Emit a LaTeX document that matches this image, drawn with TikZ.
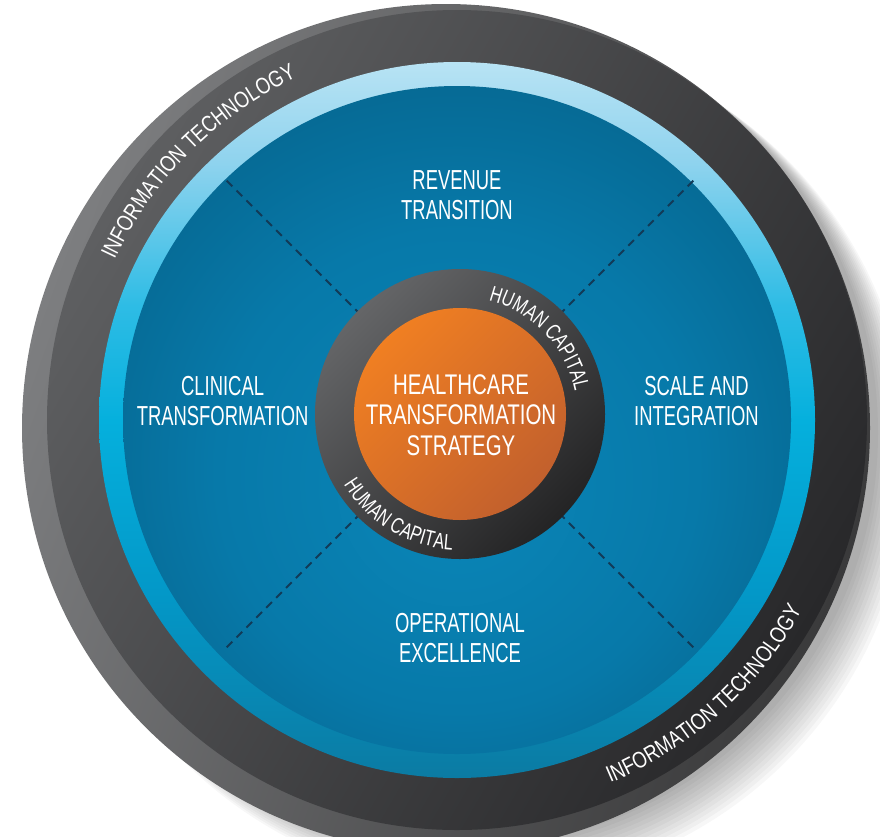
\documentclass[tikz,border=0pt]{standalone}
\usepackage{fontspec}
\usetikzlibrary{calc,decorations.text}
\newfontfamily\sidefont{Liberation Sans}[FakeStretch=0.67]
\newfontfamily\ctrfont{Liberation Sans}[FakeStretch=0.72]
\newfontfamily\ringfont{Liberation Sans}[FakeStretch=0.8]
\newfontfamily\hcringfont{Liberation Sans}[FakeStretch=0.74]
\newcommand\myitfont{\ringfont\fontsize{23}{23}\selectfont}
\newcommand\myhcfont{\hcringfont\fontsize{22}{22}\selectfont}
\definecolor{rimA}{HTML}{7D7E80}
\definecolor{rimB}{HTML}{3A3A3B}
\definecolor{ringA}{HTML}{5E5F61}
\definecolor{ringB}{HTML}{28282A}
\definecolor{cyanTop}{HTML}{B8E3F4}
\definecolor{cyanHi}{HTML}{8FD3EE}
\definecolor{cyanUp}{HTML}{2EBCE5}
\definecolor{cyanMid}{HTML}{05B0DD}
\definecolor{cyanLo}{HTML}{0398C8}
\definecolor{cyanBot}{HTML}{0B7BA3}
\definecolor{blueIn}{HTML}{0A86B8}
\definecolor{blueMid}{HTML}{0779A9}
\definecolor{blueOut}{HTML}{05587C}
\definecolor{blueEdge}{HTML}{03425C}
\definecolor{dashC}{HTML}{123A57}
\definecolor{hcA}{HTML}{646567}
\definecolor{hcB}{HTML}{242425}
\definecolor{orangeA}{HTML}{F07F22}
\definecolor{orangeB}{HTML}{C2602D}
\pgfdeclareradialshading{bluein}{\pgfpoint{0bp}{-6bp}}{color(0bp)=(blueIn); color(18bp)=(blueMid); color(40bp)=(blueOut); color(50bp)=(blueEdge)}
\pgfdeclareverticalshading{cyanring}{100bp}{color(0bp)=(cyanBot); color(25bp)=(cyanBot); color(38bp)=(cyanLo); color(50bp)=(cyanMid); color(58bp)=(cyanUp); color(68bp)=(cyanHi); color(75bp)=(cyanTop); color(100bp)=(cyanTop)}
\begin{document}
\begin{tikzpicture}[x=1pt,y=1pt,
  lbl/.style={text=white, align=center, inner sep=0pt, font=\sidefont\fontsize{27.5}{30}\selectfont},
  ctrlbl/.style={text=white, align=center, inner sep=0pt, font=\ctrfont\fontsize{28.4}{30.4}\selectfont},
  dashline/.style={draw=dashC, line width=2pt, dash pattern=on 8pt off 6pt},
  ringtext/.style={decorate, decoration={text along path, text align=center, text color=white, text={#1}}}]
\useasboundingbox (0,0) rectangle (880,-836);
\clip (0,0) rectangle (880,-836);
\coordinate (ctr) at (457,-420);
\coordinate (ictr) at (460,-414);
% soft shadow
\foreach \i in {1,...,12}
  \fill[black, opacity=0.03] ($(ctr)+(4+2*\i,-10-2.5*\i)$) circle[radius=414+\i];
% rim (thickness of the disc)
\shade[top color=rimA, bottom color=rimB, shading angle=70] (446,-428) circle[radius=424];
% dark outer ring face
\shade[top color=ringA, bottom color=ringB, shading angle=60] (ctr) circle[radius=410];
% cyan ring
\shade[shading=cyanring] (ctr) circle[radius=358];
% blue interior
\shade[shading=bluein] (ctr) circle[radius=334];
% dashed dividers
\foreach \a/\n in {45/ne,135/nw,225/sw,315/se}{
  \coordinate (\n i) at ($(ictr)+(\a:140)$);
  \coordinate (\n o) at ($(ictr)+(\a:334)$);
  \draw[dashline] (\n i) -- (\n o);
}
% inner dark ring
\shade[top color=hcA, bottom color=hcB, shading angle=45] (ictr) circle[radius=145];
% orange core
\shade[top color=orangeA, bottom color=orangeB, shading angle=45] (ictr) circle[radius=106];
% labels
\node[lbl] (rev) at (457,-195.3) {REVENUE\\TRANSITION};
\node[lbl] (cli) at (222.6,-401.1) {CLINICAL\\TRANSFORMATION};
\node[lbl] (sca) at (696.5,-401.1) {SCALE AND\\INTEGRATION};
\node[lbl] (ope) at (460,-638) {OPERATIONAL\\EXCELLENCE};
\node[ctrlbl] (hts) at (461,-415.2) {HEALTHCARE\\TRANSFORMATION\\STRATEGY};
% curved texts
\path[ringtext={|\myitfont|INFORMATION TECHNOLOGY}] ($(ctr)+(165:378)$) arc[start angle=165, end angle=105, radius=378];
\path[ringtext={|\myitfont|INFORMATION TECHNOLOGY}] ($(ctr)+(-78:394)$) arc[start angle=-78, end angle=-18, radius=394];
\path[ringtext={|\myhcfont|HUMAN CAPITAL}] ($(ictr)+(100:117)$) arc[start angle=100, end angle=-13, radius=117];
\path[ringtext={|\myhcfont|HUMAN CAPITAL}] ($(ictr)+(182:136)$) arc[start angle=182, end angle=296, radius=136];
\end{tikzpicture}
\end{document}
